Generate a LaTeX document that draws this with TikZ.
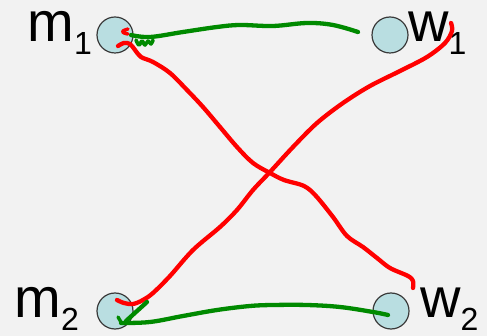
\documentclass[tikz,border=0pt]{standalone}
\usepackage{fontspec}
\setmainfont{Liberation Sans}
\definecolor{bg}{HTML}{F2F2F2}
\definecolor{nodefill}{HTML}{B9DEE1}
\definecolor{nodeline}{HTML}{3A3A3A}
\definecolor{grn}{HTML}{008A00}
\definecolor{rd}{HTML}{FF0000}
\newcommand{\lbltxt}[2]{#1\raisebox{-12.5pt}{\fontsize{32}{32}\selectfont #2}}
\begin{document}
\begin{tikzpicture}[x=1pt,y=-1pt,
  person/.style={circle, minimum size=36pt, inner sep=0pt, draw=nodeline, line width=1.2pt, fill=nodefill},
  lbl/.style={anchor=base west, inner sep=0pt, text height=30pt, text depth=0pt, font=\fontsize{56}{56}\selectfont},
  redstroke/.style={draw=rd, line width=4.3pt, line cap=round, line join=round},
  greenstroke/.style={draw=grn, line width=4.3pt, line cap=round, line join=round}]
\useasboundingbox[fill=bg] (0,0) rectangle (487,336);

\node[person] (m1) at (115,35) {};
\node[person] (w1) at (390,35) {};
\node[person] (m2) at (115,311) {};
\node[person] (w2) at (391,311) {};

\node[lbl] (lm1) at (27.3,42) {\lbltxt{m}{1}};
\node[lbl] (lw1) at (408,42) {\lbltxt{w}{1}};
\node[lbl] (lm2) at (14.3,318) {\lbltxt{m}{2}};
\node[lbl] (lw2) at (420,318) {\lbltxt{w}{2}};

% green m1 -- w1
\draw[greenstroke] plot[smooth, tension=0.6] coordinates {(131,35) (150,37) (183,32) (217,27) (240,25) (273,26) (307,23) (333,25) (358,32)};
\draw[greenstroke, line width=3.6pt] plot[smooth, tension=0.7] coordinates {(136,40) (139,45) (142,41) (145,45) (148,41) (151,44) (153,40)};

% red m1 -- w2
\draw[redstroke, line width=3.4pt] plot[smooth, tension=0.7] coordinates {(128,29) (123,31) (124,33) (128,34)};
\draw[redstroke] plot[smooth, tension=0.55] coordinates {(118,46) (124,43) (130,44) (135,50) (141,57) (153,62) (170,73) (187,90) (203,107) (220,127) (237,147) (253,163) (270,173) (284,180) (304,186) (316,196) (333,217) (347,236) (363,247) (377,258) (390,268) (408,276) (413,281) (413,288)};

% red m2 -- w1
\draw[redstroke] plot[smooth, tension=0.55] coordinates {(117,300) (124,303) (133,304) (143,300) (153,293) (170,276) (193,250) (220,227) (237,210) (253,190) (270,172) (293,147) (317,123) (343,103) (370,86) (400,71) (427,57) (445,43) (452,31) (451,23)};

% green m2 -- w2
\draw[greenstroke] (147,302) -- (126,321);
\draw[greenstroke, line width=3.4pt] (118,317) -- (121,322);
\draw[greenstroke] plot[smooth, tension=0.6] coordinates {(121,323) (150,322) (183,316) (217,310) (250,306) (273,305) (307,305) (340,307) (373,312) (388,315)};
\end{tikzpicture}
\end{document}
